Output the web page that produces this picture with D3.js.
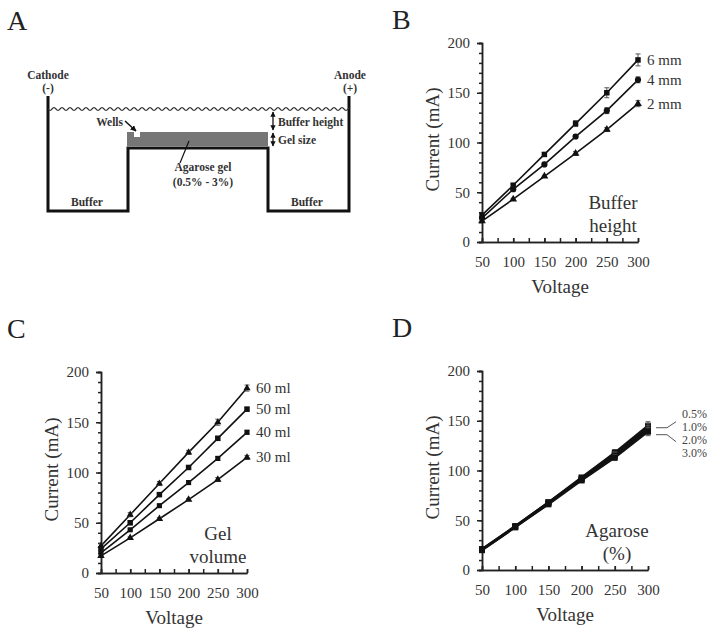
<!DOCTYPE html>
<html>
<head>
<meta charset="utf-8">
<script src="https://cdn.jsdelivr.net/npm/d3@7"></script>
<style>
  body { margin: 0; background: #fff; }
</style>
</head>
<body>
<div id="chart"></div>
<script>
// shared axes
const voltage = [50, 100, 150, 200, 250, 300];
const currentTicks = [0, 50, 100, 150, 200];

// B: buffer height
const bufferNames = ["6 mm", "4 mm", "2 mm"];
const buffer6mm = [27, 57, 88, 119, 150, 183];
const buffer4mm = [24, 53, 78, 106, 132, 163];
const buffer2mm = [21, 43, 66, 89, 113, 139];
const buffer6mmErr = [2, 2, 2, 3, 5, 6];
const buffer4mmErr = [1, 2, 2, 2, 3, 3];
const buffer2mmErr = [1, 1, 1, 2, 2, 3];

// C: gel volume
const gelNames = ["60 ml", "50 ml", "40 ml", "30 ml"];
const gel60 = [27, 58, 89, 120, 150, 184];
const gel50 = [24, 50, 78, 105, 134, 163];
const gel40 = [20, 43, 67, 90, 114, 140];
const gel30 = [17, 35, 54, 73, 93, 115];
const gel60Err = [2, 2, 2, 2, 3, 3];
const gel50Err = [1, 2, 2, 2, 2, 2];
const gel40Err = [1, 1, 1, 2, 2, 2];
const gel30Err = [1, 1, 1, 1, 2, 2];

// D: agarose %
const agaroseNames = ["0.5%", "1.0%", "2.0%", "3.0%"];
const agarose05 = [21, 44, 68, 93, 118, 145];
const agarose10 = [21, 44, 68, 92, 116, 143];
const agarose20 = [20, 43, 67, 91, 115, 141];
const agarose30 = [20, 43, 66, 90, 113, 139];
const agaroseErr = [1, 1, 2, 2, 3, 4];

const FONT = "'Liberation Serif', 'Times New Roman', serif";

var svg = d3.select("#chart")
    .append("svg")
    .attr("width", 720)
    .attr("height", 635)
    .style("font-family", FONT);

// panel letters
const panelLetter = (txt, x, y) => {
    svg.append("text")
        .attr("x", x).attr("y", y)
        .style("font-family", FONT)
        .style("font-size", "28px")
        .style("fill", "#222")
        .text(txt);
};
panelLetter("A", 7, 30);
panelLetter("B", 392, 29);
panelLetter("C", 7, 338);
panelLetter("D", 392, 337);

// ---------- panel A: schematic ----------
const drawSchematic = () => {
    var g = svg.append("g");
    var ink = "#111";

    // gel slab with a well
    g.append("rect").attr("x", 127).attr("y", 132).attr("width", 141).attr("height", 14)
        .style("fill", "#767676");
    g.append("rect").attr("x", 134).attr("y", 131).attr("width", 6).attr("height", 6)
        .style("fill", "#fff");

    // tank outline
    g.append("path")
        .attr("d", "M48,96 V211 H128 V148 H268 V211 H349 V96")
        .style("fill", "none").style("stroke", ink).style("stroke-width", 3);

    // buffer surface
    var wave = d3.range(48, 349.5, 1).map(x => [x, 109 + 1.4 * Math.sin((x - 48) / 8 * 2 * Math.PI)]);
    g.append("path")
        .attr("d", d3.line()(wave))
        .style("fill", "none").style("stroke", "#333").style("stroke-width", 1.1);

    var defs = svg.append("defs");
    defs.append("marker")
        .attr("id", "arrow")
        .attr("viewBox", "0 0 10 10")
        .attr("refX", 9).attr("refY", 5)
        .attr("markerWidth", 4).attr("markerHeight", 4)
        .attr("orient", "auto-start-reverse")
        .append("path").attr("d", "M0,0 L10,5 L0,10 z").style("fill", ink);

    // wells arrow
    g.append("line").attr("x1", 125).attr("y1", 121).attr("x2", 136).attr("y2", 131)
        .style("stroke", ink).style("stroke-width", 1.5).attr("marker-end", "url(#arrow)");
    // buffer height / gel size arrows
    g.append("line").attr("x1", 273).attr("y1", 112).attr("x2", 273).attr("y2", 130)
        .style("stroke", ink).style("stroke-width", 1.3)
        .attr("marker-start", "url(#arrow)").attr("marker-end", "url(#arrow)");
    g.append("line").attr("x1", 273).attr("y1", 133).attr("x2", 273).attr("y2", 146)
        .style("stroke", ink).style("stroke-width", 1.3)
        .attr("marker-start", "url(#arrow)").attr("marker-end", "url(#arrow)");
    // gel leader
    g.append("line").attr("x1", 180).attr("y1", 163).attr("x2", 189).attr("y2", 141)
        .style("stroke", ink).style("stroke-width", 1.2);

    var labels = [
        {t: "Cathode", x: 48, y: 79, a: "middle"},
        {t: "(-)", x: 48, y: 92, a: "middle"},
        {t: "Anode", x: 350, y: 79, a: "middle"},
        {t: "(+)", x: 350, y: 92, a: "middle"},
        {t: "Wells", x: 123, y: 126, a: "end"},
        {t: "Buffer height", x: 278, y: 126, a: "start"},
        {t: "Gel size", x: 278, y: 144, a: "start"},
        {t: "Agarose gel", x: 203, y: 171, a: "middle"},
        {t: "(0.5% - 3%)", x: 203, y: 186, a: "middle"},
        {t: "Buffer", x: 87, y: 206, a: "middle"},
        {t: "Buffer", x: 307, y: 206, a: "middle"}
    ];
    g.selectAll("text.lab")
        .data(labels)
        .enter()
        .append("text")
        .attr("class", "lab")
        .attr("x", d => d.x).attr("y", d => d.y)
        .attr("text-anchor", d => d.a)
        .style("font-family", FONT)
        .style("font-size", "11.5px")
        .style("font-weight", "bold")
        .style("fill", "#333")
        .text(d => d.t);
};
drawSchematic();

// ---------- line panels ----------
const drawPanel = (box, series, names, note, labelMode) => {
    var g = svg.append("g");
    var x = d3.scaleLinear().domain([50, 300]).range([box.left, box.right]);
    var y = d3.scaleLinear().domain([0, 200]).range([box.bottom, box.top]);
    var axisColor = "#222";

    // y axis: minor ticks then major
    var yMinor = g.append("g").attr("transform", "translate(" + box.left + ",0)")
        .call(d3.axisLeft(y).tickValues(d3.range(0, 201, 10)).tickSize(3).tickFormat(""));
    var yAxis = g.append("g").attr("transform", "translate(" + box.left + ",0)")
        .call(d3.axisLeft(y).tickValues(currentTicks).tickSize(5).tickPadding(7));
    // x axis, ticks pointing up
    var xMinor = g.append("g").attr("transform", "translate(0," + box.bottom + ")")
        .call(d3.axisBottom(x).tickValues(d3.range(50, 301, 25)).tickSizeInner(-4).tickSizeOuter(0).tickFormat(""));
    var xAxis = g.append("g").attr("transform", "translate(0," + box.bottom + ")")
        .call(d3.axisBottom(x).tickValues(voltage).tickSizeInner(-4).tickSizeOuter(0).tickPadding(13));

    [yMinor, yAxis, xMinor, xAxis].forEach(a => {
        a.attr("font-family", null);
        a.selectAll("path, line").style("stroke", axisColor).style("stroke-width", 1.5);
        a.selectAll("text")
            .style("font-family", FONT)
            .style("font-size", "15px")
            .style("fill", "#333");
    });
    xAxis.selectAll("text").attr("dy", "0.32em").attr("y", 20);

    // titles
    g.append("text")
        .attr("x", (box.left + box.right) / 2)
        .attr("y", box.bottom + 51)
        .attr("text-anchor", "middle")
        .style("font-family", FONT)
        .style("font-size", "19px").style("fill", "#333")
        .text("Voltage");
    g.append("text")
        .attr("transform", "translate(" + (box.left - 43) + "," + ((box.top + box.bottom) / 2 - 3) + ") rotate(-90)")
        .attr("text-anchor", "middle")
        .style("font-family", FONT)
        .style("font-size", "19px").style("fill", "#333")
        .text("Current (mA)");

    // series
    var line = d3.line().x((d, i) => x(voltage[i])).y(d => y(d));
    series.forEach(s => {
        g.append("path")
            .attr("d", line(s.values))
            .style("fill", "none")
            .style("stroke", "#111")
            .style("stroke-width", s.width);

        var pts = s.values.map((v, i) => ({v: v, e: s.err[i], vx: voltage[i]}));
        g.selectAll(null)
            .data(pts)
            .enter()
            .append("path")
            .attr("d", d => "M" + x(d.vx) + "," + y(d.v - d.e) + "V" + y(d.v + d.e)
                + "M" + (x(d.vx) - 2.5) + "," + y(d.v + d.e) + "h5"
                + "M" + (x(d.vx) - 2.5) + "," + y(d.v - d.e) + "h5")
            .style("stroke", "#555").style("stroke-width", 1).style("fill", "none");

        g.selectAll(null)
            .data(pts)
            .enter()
            .append("path")
            .attr("transform", d => "translate(" + x(d.vx) + "," + y(d.v) + ")")
            .attr("d", d3.symbol().type(s.symbol).size(s.size))
            .style("fill", "#111");
    });

    // series labels
    if (labelMode === "end") {
        g.selectAll("text.slab")
            .data(series)
            .enter()
            .append("text")
            .attr("class", "slab")
            .attr("x", x(300) + 9)
            .attr("y", (d, i) => y(d.values[d.values.length - 1]) + 5)
            .style("font-family", FONT)
            .style("font-size", "15px").style("fill", "#333")
            .text((d, i) => names[i]);
    } else {
        var topV = d3.max(series, s => s.values[s.values.length - 1]);
        var lowV = d3.min(series, s => s.values[s.values.length - 1]);
        var x0 = x(300) + 8;
        var yTop = y(topV) + 2, yLow = y(lowV) + 3;
        g.append("path")
            .attr("d", "M" + x0 + "," + yTop + "h11l9,-6")
            .style("fill", "none").style("stroke", "#555").style("stroke-width", 1);
        g.append("path")
            .attr("d", "M" + x0 + "," + yLow + "h11l9,7")
            .style("fill", "none").style("stroke", "#555").style("stroke-width", 1);
        g.selectAll("text.slab")
            .data(names)
            .enter()
            .append("text")
            .attr("class", "slab")
            .attr("x", x(300) + 34)
            .attr("y", (d, i) => yTop - 10 + i * 13)
            .style("font-family", FONT)
            .style("font-size", "12px").style("fill", "#444")
            .text(d => d);
    }

    // panel note (bottom right)
    g.selectAll("text.note")
        .data(note.lines)
        .enter()
        .append("text")
        .attr("class", "note")
        .attr("x", note.cx)
        .attr("y", (d, i) => box.bottom - 33 + i * 23)
        .attr("text-anchor", "middle")
        .style("font-family", FONT)
        .style("font-size", "19px").style("fill", "#333")
        .text(d => d);
};

drawPanel({left: 482, right: 638, top: 43, bottom: 242},
    [
        {values: buffer6mm, err: buffer6mmErr, symbol: d3.symbolSquare, size: 30, width: 1.6},
        {values: buffer4mm, err: buffer4mmErr, symbol: d3.symbolCircle, size: 30, width: 1.6},
        {values: buffer2mm, err: buffer2mmErr, symbol: d3.symbolTriangle, size: 26, width: 1.6}
    ],
    bufferNames, {cx: 613, lines: ["Buffer", "height"]}, "end");

drawPanel({left: 101, right: 247, top: 372, bottom: 573},
    [
        {values: gel60, err: gel60Err, symbol: d3.symbolTriangle, size: 22, width: 1.6},
        {values: gel50, err: gel50Err, symbol: d3.symbolSquare, size: 30, width: 1.6},
        {values: gel40, err: gel40Err, symbol: d3.symbolSquare, size: 26, width: 1.6},
        {values: gel30, err: gel30Err, symbol: d3.symbolTriangle, size: 24, width: 1.6}
    ],
    gelNames, {cx: 218, lines: ["Gel", "volume"]}, "end");

drawPanel({left: 482, right: 648, top: 371, bottom: 570},
    [
        {values: agarose05, err: agaroseErr, symbol: d3.symbolSquare, size: 36, width: 2.2},
        {values: agarose10, err: agaroseErr, symbol: d3.symbolSquare, size: 36, width: 2.2},
        {values: agarose20, err: agaroseErr, symbol: d3.symbolSquare, size: 36, width: 2.2},
        {values: agarose30, err: agaroseErr, symbol: d3.symbolSquare, size: 36, width: 2.2}
    ],
    agaroseNames, {cx: 617, lines: ["Agarose", "(%)"]}, "leader");
</script>
</body>
</html>
